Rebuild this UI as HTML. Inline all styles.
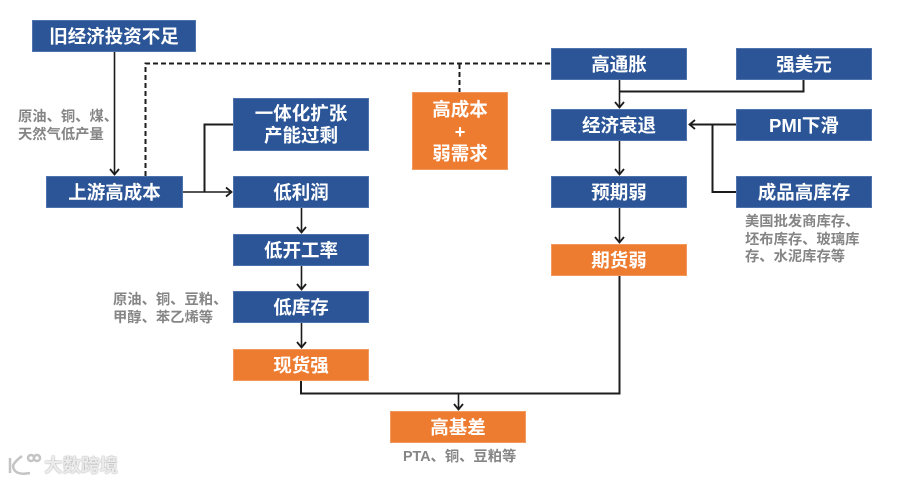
<!DOCTYPE html>
<html lang="zh"><head><meta charset="utf-8"><style>
html,body{margin:0;padding:0;background:#fff}
#c{position:relative;width:900px;height:483px;overflow:hidden;font-family:"Liberation Sans","Noto Sans CJK SC",sans-serif;filter:blur(.35px)}
.b{position:absolute;display:flex;align-items:center;justify-content:center;text-align:center;color:#fff;font-size:18.5px;font-weight:700;line-height:22px;background:#2b5597;box-sizing:border-box;border:1px solid #4f74ad;padding-top:1px}
.o{background:#ee7c30;border-color:#f29a5e}
.t{position:absolute;color:#858585;font-size:14.3px;font-weight:700;line-height:17.5px;white-space:nowrap}
svg{position:absolute;left:0;top:0}
</style></head><body><div id="c">
<svg width="900" height="483" fill="none" stroke="#1c1c1c" stroke-width="1.6">
<path d="M114.500 52V174M301.500 208V232M301.500 266V289M301.500 323V347M619.500 80V107M619.500 141V174M619.500 208V242M458.500 394V409M183 192H231"/>
<path d="M204.500 192V124.500H233M620 91.500H803.500V80M736 124.500H690M712.500 124.500V192H736M301 381V393.500H619.500V276" stroke-width="2"/>
<path d="M145.500 176V63.500H551M459.500 64V92" stroke-width="2" stroke-dasharray="5 3"/>
<path d="M110 169L114.500 174.500L119 169M297 227L301.500 232.500L306 227M297 284L301.500 289.500L306 284M297 342L301.500 347.500L306 342M615 102L619.500 107.500L624 102M615 169L619.500 174.500L624 169M615 237L619.500 242.500L624 237M454 404L458.500 409.500L463 404M226 187.500L231.500 192L226 196.500M695 120L689.500 124.500L695 129" stroke-width="1.8"/>
</svg>
<div class="b" style="left:32px;top:20px;width:164px;height:32px">旧经济投资不足</div>
<div class="b" style="left:46px;top:176px;width:137px;height:32px">上游高成本</div>
<div class="b" style="left:233px;top:98px;width:136px;height:53px">一体化扩张<br>产能过剩</div>
<div class="b" style="left:233px;top:176px;width:136px;height:32px">低利润</div>
<div class="b" style="left:233px;top:234px;width:136px;height:32px">低开工率</div>
<div class="b" style="left:233px;top:291px;width:136px;height:32px">低库存</div>
<div class="b o" style="left:233px;top:349px;width:136px;height:32px">现货强</div>
<div class="b o" style="left:390px;top:411px;width:136px;height:32px">高基差</div>
<div class="b o" style="left:412px;top:92px;width:96px;height:78px">高成本<br>+<br>弱需求</div>
<div class="b" style="left:551px;top:48px;width:136px;height:32px">高通胀</div>
<div class="b" style="left:736px;top:48px;width:136px;height:32px">强美元</div>
<div class="b" style="left:551px;top:109px;width:136px;height:32px">经济衰退</div>
<div class="b" style="left:736px;top:109px;width:136px;height:32px">PMI下滑</div>
<div class="b" style="left:551px;top:176px;width:136px;height:32px">预期弱</div>
<div class="b" style="left:736px;top:176px;width:136px;height:32px">成品高库存</div>
<div class="b o" style="left:551px;top:244px;width:136px;height:32px">期货弱</div>
<div class="t" style="left:18px;top:109px">原油、铜、煤、<br>天然气低产量</div>
<div class="t" style="left:113px;top:292px">原油、铜、豆粕、<br>甲醇、苯乙烯等</div>
<div class="t" style="left:745px;top:214px">美国批发商库存、<br>坯布库存、玻璃库<br>存、水泥库存等</div>
<div class="t" style="left:403px;top:449px">PTA、铜、豆粕等</div>
<svg width="900" height="483" fill="none" stroke="#c4c4c4" stroke-width="2.500"><path d="M10 458V473M22 456Q14 462 13 466Q14 476 30 473"/><circle cx="31" cy="458" r="3"/><circle cx="37" cy="458" r="3"/></svg>
<div style="position:absolute;left:44px;top:455px;color:#ececec;font-size:18.500px;line-height:22px;font-weight:700;text-shadow:0 0 1.500px #888;white-space:nowrap">大数跨境</div>
</div></body></html>
